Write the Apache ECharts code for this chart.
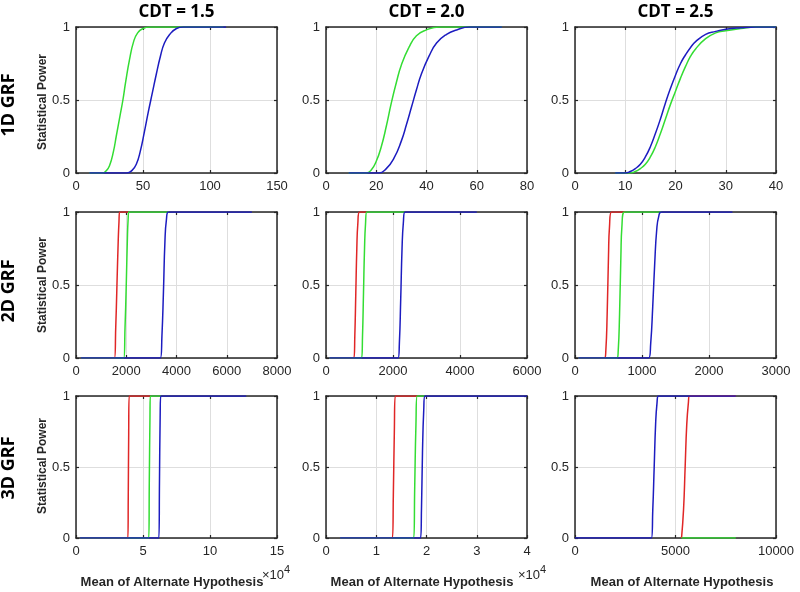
<!DOCTYPE html>
<html><head><meta charset="utf-8">
<script src="https://cdn.jsdelivr.net/npm/echarts@6/dist/echarts.min.js"></script>
<style>html,body{margin:0;padding:0;background:#fff}#c{width:800px;height:592px}</style>
</head><body><div id="c"></div><script>
// ---- labels / ticks ----
const colTitles = ['CDT = 1.5', 'CDT = 2.0', 'CDT = 2.5'];
const rowTitles = ['1D GRF', '2D GRF', '3D GRF'];
const yLabel = 'Statistical Power';
const xLabel = 'Mean of Alternate Hypothesis';
const xMax = [[150, 80, 40], [8000, 6000, 3000], [150000, 40000, 10000]];
const xStep = [[50, 20, 10], [2000, 2000, 1000], [50000, 10000, 5000]];
const xDiv = [[1, 1, 1], [1, 1, 1], [10000, 10000, 1]];

// ---- data: [x, power] ----
// 1D GRF
const d1_15_green = [[10,0],[20,0],[22,0.01],[25,0.05],[28,0.15],[30,0.25],[33,0.4],[35,0.5],[37,0.62],[40,0.78],[43,0.9],[46,0.96],[50,0.99],[55,1],[60,1],[110,1]];
const d1_15_blue = [[10,0],[38,0],[42,0.02],[45,0.06],[48,0.15],[51,0.28],[54,0.42],[57,0.55],[60,0.68],[63,0.8],[66,0.89],[70,0.95],[75,0.99],[80,1],[112,1]];
const d1_20_green = [[9,0],[16,0],[18,0.02],[20,0.08],[22,0.18],[24,0.32],[26,0.48],[28,0.62],[30,0.74],[33,0.86],[36,0.94],[40,0.98],[45,1],[70,1]];
const d1_20_blue = [[9,0],[21,0],[24,0.03],[27,0.1],[30,0.22],[32,0.33],[34,0.45],[36,0.57],[38,0.68],[41,0.8],[44,0.89],[48,0.95],[52,0.98],[57,1],[70,1]];
const d1_25_green = [[8,0],[11,0],[12,0.01],[13,0.03],[14,0.06],[15,0.11],[16,0.18],[17,0.27],[18,0.37],[19,0.47],[20,0.56],[21,0.65],[22,0.73],[23,0.8],[24,0.85],[26,0.92],[28,0.96],[30,0.975],[33,0.99],[36,1],[40,1]];
const d1_25_blue = [[8,0],[10,0],[11,0.01],[12,0.03],[13,0.06],[14,0.11],[15,0.18],[16,0.27],[17,0.37],[18,0.48],[19,0.58],[20,0.67],[21,0.75],[22,0.81],[23,0.86],[24,0.9],[26,0.95],[28,0.97],[30,0.985],[33,0.995],[36,1],[40,1]];
// 2D GRF
const d2_15_red = [[200,0],[1530,0],[1580,0.2],[1630,0.5],[1680,0.8],[1710,0.93],[1740,1],[2100,1]];
const d2_15_green = [[200,0],[1900,0],[1950,0.2],[2000,0.5],[2050,0.85],[2075,0.95],[2100,1],[3700,1]];
const d2_15_blue = [[200,0],[3360,0],[3420,0.15],[3480,0.45],[3540,0.8],[3600,0.95],[3680,1],[7000,1]];
const d2_20_red = [[100,0],[830,0],[860,0.15],[890,0.45],[920,0.75],[950,0.92],[1000,1],[1220,1]];
const d2_20_green = [[100,0],[1060,0],[1090,0.15],[1120,0.45],[1150,0.75],[1180,0.92],[1220,1],[2360,1]];
const d2_20_blue = [[100,0],[2150,0],[2190,0.1],[2230,0.4],[2270,0.75],[2310,0.93],[2360,1],[4500,1]];
const d2_25_red = [[50,0],[440,0],[460,0.05],[480,0.3],[500,0.7],[515,0.9],[545,1],[750,1]];
const d2_25_green = [[50,0],[625,0],[645,0.05],[665,0.3],[685,0.7],[700,0.9],[740,1],[1290,1]];
const d2_25_blue = [[50,0],[1100,0],[1130,0.1],[1160,0.35],[1190,0.65],[1220,0.88],[1250,0.97],[1290,1],[2350,1]];
// 3D GRF
const d3_15_red = [[3000,0],[38700,0],[39000,0.3],[39300,0.7],[39700,1],[55500,1]];
const d3_15_green = [[3000,0],[54300,0],[54700,0.4],[55200,0.85],[55500,1],[63300,1]];
const d3_15_blue = [[3000,0],[61800,0],[62300,0.4],[62800,0.85],[63300,1],[127000,1]];
const d3_20_red = [[2800,0],[13200,0],[13400,0.3],[13600,0.75],[13800,1],[18200,1]];
const d3_20_green = [[2800,0],[17450,0],[17650,0.35],[17900,0.8],[18150,1],[19700,1]];
const d3_20_blue = [[2800,0],[18800,0],[19000,0.2],[19200,0.6],[19450,0.9],[19700,1],[40000,1]];
const d3_25_red = [[5300,0],[5330,0],[5400,0.2],[5480,0.5],[5560,0.8],[5640,0.95],[5700,1],[8000,1]];
const d3_25_green = [[5300,0],[8000,0]];
const d3_25_blue = [[0,0],[3800,0],[3870,0.2],[3940,0.5],[4010,0.8],[4080,0.95],[4150,1],[8000,1]];

const RED = '#e02626', GREEN = '#33dd33', BLUE = '#1c1cc0';
const panels = [
  [[[GREEN,d1_15_green],[BLUE,d1_15_blue]], [[GREEN,d1_20_green],[BLUE,d1_20_blue]], [[GREEN,d1_25_green],[BLUE,d1_25_blue]]],
  [[[RED,d2_15_red],[GREEN,d2_15_green],[BLUE,d2_15_blue]], [[RED,d2_20_red],[GREEN,d2_20_green],[BLUE,d2_20_blue]], [[RED,d2_25_red],[GREEN,d2_25_green],[BLUE,d2_25_blue]]],
  [[[RED,d3_15_red],[GREEN,d3_15_green],[BLUE,d3_15_blue]], [[RED,d3_20_red],[GREEN,d3_20_green],[BLUE,d3_20_blue]], [[RED,d3_25_red],[GREEN,d3_25_green],[BLUE,d3_25_blue]]]
];

// ---- layout ----
const colLeft = [76, 326, 575], colW = 201;
const rowTop = [27, 212, 396], rowH = [146, 146, 142];
const INK = '#262626';
const FONT = 'Liberation Sans, Arial, sans-serif';
const boxLine = {show: true, onZero: false, lineStyle: {color: INK, width: 1.5}};
const tick = {show: true, inside: true, length: 3, lineStyle: {color: INK, width: 1.2}};

const grids = [], xAxes = [], yAxes = [], series = [];
for (let r = 0; r < 3; r++) for (let c = 0; c < 3; c++) {
  const i = r * 3 + c;
  grids.push({left: colLeft[c], top: rowTop[r], width: colW, height: rowH[r]});
  const div = xDiv[r][c];
  xAxes.push({type: 'value', gridIndex: i, min: 0, max: xMax[r][c], interval: xStep[r][c],
    axisLine: boxLine, axisTick: tick, z: 2,
    splitLine: {show: true, lineStyle: {color: '#dedede', width: 1}},
    axisLabel: {color: INK, fontSize: 13, fontFamily: FONT, margin: 7,
      formatter: v => String(v / div)}});
  yAxes.push({type: 'value', gridIndex: i, min: 0, max: 1, interval: 0.5,
    axisLine: boxLine, axisTick: tick, z: 2,
    splitLine: {show: true, lineStyle: {color: '#dedede', width: 1}},
    axisLabel: {color: INK, fontSize: 13, fontFamily: FONT, margin: 6}});
  panels[r][c].forEach(([col, data]) => {
    series.push({type: 'line', xAxisIndex: i, yAxisIndex: i, data: data, showSymbol: false,
      smooth: 0.5, lineStyle: {color: col, width: 1.5}, itemStyle: {color: col},
      animation: false, z: 10});
  });
}
// mirror axes on top / right (box style)
for (let r = 0; r < 3; r++) for (let c = 0; c < 3; c++) {
  const i = r * 3 + c;
  xAxes.push({type: 'value', gridIndex: i, position: 'top', min: 0, max: xMax[r][c], interval: xStep[r][c],
    axisLine: boxLine, splitLine: {show: false}, axisLabel: {show: false}, axisTick: tick, z: 2});
  yAxes.push({type: 'value', gridIndex: i, position: 'right', min: 0, max: 1, interval: 0.5,
    axisLine: boxLine, splitLine: {show: false}, axisLabel: {show: false}, axisTick: tick, z: 2});
}

const graphics = [];
colTitles.forEach((t, c) => graphics.push({type: 'text', x: colLeft[c] + colW / 2, y: 12,
  style: {text: t, font: 'bold 17px "Open Sans", sans-serif', fill: '#000', textAlign: 'center', textVerticalAlign: 'middle'}}));
const rowCenters = [105, 291, 468];
rowTitles.forEach((t, r) => graphics.push({type: 'text', x: 9, y: rowCenters[r], rotation: Math.PI / 2,
  style: {text: t, font: 'bold 18px "Open Sans", sans-serif', fill: '#000', textAlign: 'center', textVerticalAlign: 'middle'}}));
const yLabCenters = [102, 285, 466];
yLabCenters.forEach(y => graphics.push({type: 'text', x: 43, y: y, rotation: Math.PI / 2,
  style: {text: yLabel, font: 'bold 12px "Liberation Sans", Arial, sans-serif', fill: INK, textAlign: 'center', textVerticalAlign: 'middle'}}));
[172, 422, 682].forEach(x => graphics.push({type: 'text', x: x, y: 582,
  style: {text: xLabel, font: 'bold 13px "Liberation Sans", Arial, sans-serif', fill: INK, textAlign: 'center', textVerticalAlign: 'middle'}}));
[262, 518].forEach(x => graphics.push({type: 'text', x: x, y: 563,
  style: {text: '{a|×10}{b|4}', textVerticalAlign: 'top', rich: {
    a: {font: '13px "Liberation Sans", Arial, sans-serif', fill: INK, padding: [6, 0, 0, 0]},
    b: {font: '11px "Liberation Sans", Arial, sans-serif', fill: INK, padding: [0, 0, 6, 0]}}}}));

const chart = echarts.init(document.getElementById('c'), null, {renderer: 'canvas'});
chart.setOption({animation: false, backgroundColor: '#fff', grid: grids, xAxis: xAxes, yAxis: yAxes,
  series: series, graphic: graphics});
</script></body></html>
